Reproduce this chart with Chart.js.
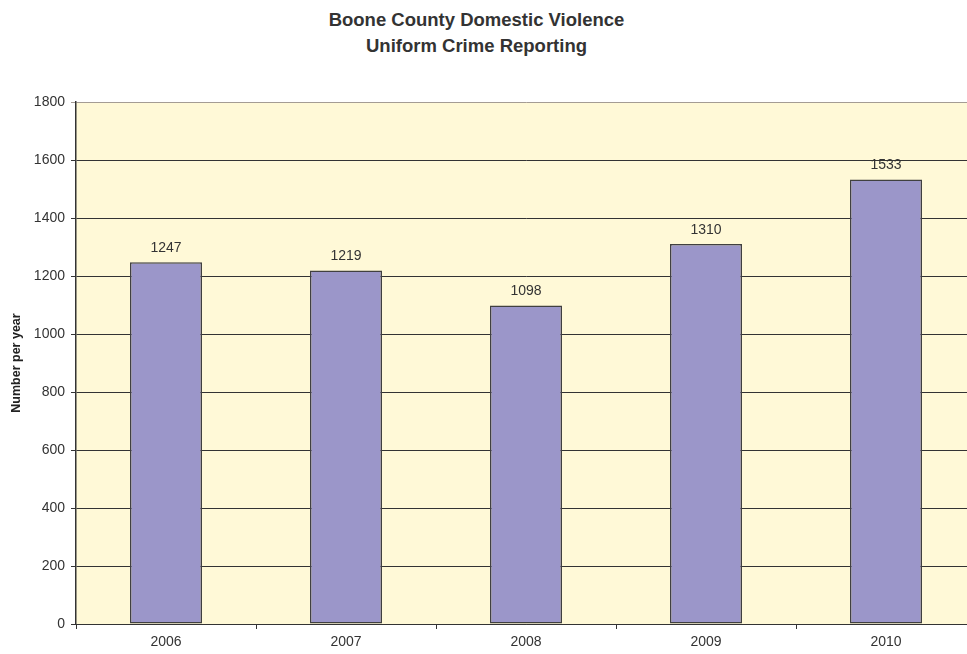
<!DOCTYPE html>
<html>
<head>
<meta charset="utf-8">
<script src="https://cdn.jsdelivr.net/npm/chart.js@4"></script>
<style>
  html, body { margin: 0; padding: 0; background: #fff; overflow: hidden; }
  .wrap { position: relative; width: 967px; height: 654px; overflow: hidden; }
  .title {
    position: absolute; left: 0; top: 7px; width: 953px;
    text-align: center; font: bold 18.5px 'Liberation Sans', Arial, sans-serif;
    color: #333; line-height: 26px;
  }
  canvas { position: absolute; left: 0; top: 0; }
</style>
</head>
<body>
<div class="wrap">
  <div class="title">Boone County Domestic Violence<br>Uniform Crime Reporting</div>
  <canvas id="chart" width="990" height="654"></canvas>
</div>
<script>
const years = ['2006', '2007', '2008', '2009', '2010'];
const incidents = [1247, 1219, 1098, 1310, 1533];
const yTicks = [0, 200, 400, 600, 800, 1000, 1200, 1400, 1600, 1800];

const FONT = `'Liberation Sans', Arial, sans-serif`;
Chart.defaults.font.family = FONT;
Chart.defaults.color = '#333';

// Fill the plot area with the pale yellow background
const plotBg = {
  id: 'plotBg',
  beforeDraw(chart) {
    const { ctx, chartArea: a } = chart;
    ctx.save();
    ctx.fillStyle = '#FFF9D7';
    ctx.fillRect(a.left, a.top, a.right - a.left, a.bottom - a.top);
    ctx.restore();
  },
};

// Value labels above each bar
const barLabels = {
  id: 'barLabels',
  afterDatasetsDraw(chart) {
    const { ctx } = chart;
    const meta = chart.getDatasetMeta(0);
    ctx.save();
    ctx.font = `14px ${FONT}`;
    ctx.fillStyle = '#333';
    ctx.textAlign = 'center';
    ctx.textBaseline = 'bottom';
    meta.data.forEach((bar, i) => {
      ctx.fillText(incidents[i], bar.x, bar.y - 7);
    });
    ctx.restore();
  },
};

new Chart(document.getElementById('chart'), {
  type: 'bar',
  data: {
    labels: years,
    datasets: [{
      data: incidents,
      backgroundColor: '#9B96C9',
      borderColor: '#404040',
      borderWidth: 1.5,
      borderSkipped: false,
      barPercentage: 0.4,
      categoryPercentage: 1,
    }],
  },
  plugins: [plotBg, barLabels],
  options: {
    responsive: false,
    animation: false,
    layout: { padding: { top: 102, right: 14, bottom: 0, left: 0 } },
    plugins: {
      legend: { display: false },
      tooltip: { enabled: false },
    },
    scales: {
      x: {
        afterFit(scale) { scale.height = 30; },
        grid: {
          offset: true,
          drawOnChartArea: false,
          color: '#333',
          tickLength: 5,
        },
        border: { color: '#333', width: 1 },
        ticks: { font: { size: 14 }, padding: 5, color: '#333' },
      },
      y: {
        min: 0,
        max: 1800,
        afterFit(scale) { scale.width = 76; },
        afterBuildTicks(scale) { scale.ticks = yTicks.map(v => ({ value: v })); },
        grid: {
          color: ctx => (ctx.tick && ctx.tick.value === 1800 ? '#a49c94' : '#333'),
          lineWidth: 1,
          tickLength: 5,
        },
        border: { color: '#333', width: 1.5 },
        ticks: {
          font: { size: 14 },
          padding: 6,
          color: '#333',
          callback: value => String(value),
        },
        title: {
          display: true,
          text: 'Number per year',
          font: { size: 12.5, weight: 'bold' },
          color: '#222',
          padding: { top: 9, bottom: 0 },
        },
      },
    },
  },
});
</script>
</body>
</html>
